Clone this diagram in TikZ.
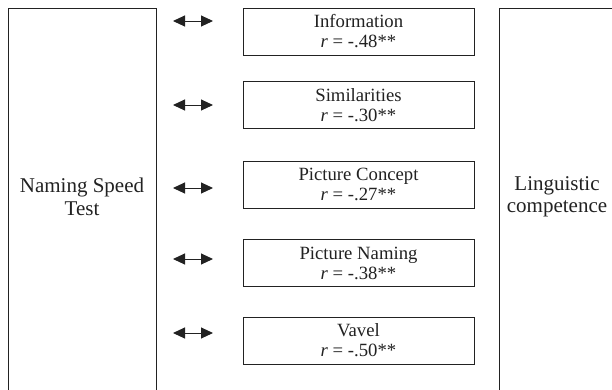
\documentclass[tikz,border=0pt]{standalone}
\usepackage{fontspec}
\setmainfont{Liberation Serif}
\usetikzlibrary{arrows.meta}
\definecolor{ink}{HTML}{222222}
\begin{document}
\begin{tikzpicture}[x=1pt,y=-1pt,
  frame/.style={draw=ink,line width=1pt},
  midbox/.style={frame,minimum width=231pt,minimum height=47pt,inner sep=0pt,
    align=center,text=ink,font=\fontsize{18.7}{20}\selectfont},
  bigtext/.style={align=center,text=ink,font=\fontsize{21}{22.5}\selectfont},
  link/.style={draw=ink,line width=1pt,{Triangle[length=12pt,width=11pt]}-{Triangle[length=12pt,width=11pt]}}]
\useasboundingbox (0,0) rectangle (612,389);
\clip (0,0) rectangle (612,389);
\fill[white] (0,0) rectangle (612,389);
% outer boxes
\draw[frame] (8,400) -- (8,8) -- (156,8) -- (156,400);
\draw[frame] (499,400) -- (499,8) -- (640,8);
\node[bigtext] (nst) at (82,197) {Naming Speed\\Test};
\node[bigtext] (lc) at (557,197) {Linguistic\\competence};
% middle boxes
\node[midbox] (b1) at (358.5,31.5) {Information\\\textit{r} = -.48**};
\node[midbox] (b2) at (358.5,105) {Similarities\\\textit{r} = -.30**};
\node[midbox] (b3) at (358.5,184.5) {Picture Concept\\\textit{r} = -.27**};
\node[midbox] (b4) at (358.5,263) {Picture Naming\\\textit{r} = -.38**};
\node[midbox] (b5) at (358.5,340.5) {Vavel\\\textit{r} = -.50**};
% arrows
\coordinate (a1l) at (173,21);  \coordinate (a1r) at (213,21);
\coordinate (a2l) at (173,105); \coordinate (a2r) at (213,105);
\coordinate (a3l) at (173,188); \coordinate (a3r) at (213,188);
\coordinate (a4l) at (173,259); \coordinate (a4r) at (213,259);
\coordinate (a5l) at (173,333); \coordinate (a5r) at (213,333);
\draw[link] (a1l) -- (a1r);
\draw[link] (a2l) -- (a2r);
\draw[link] (a3l) -- (a3r);
\draw[link] (a4l) -- (a4r);
\draw[link] (a5l) -- (a5r);
\end{tikzpicture}
\end{document}
